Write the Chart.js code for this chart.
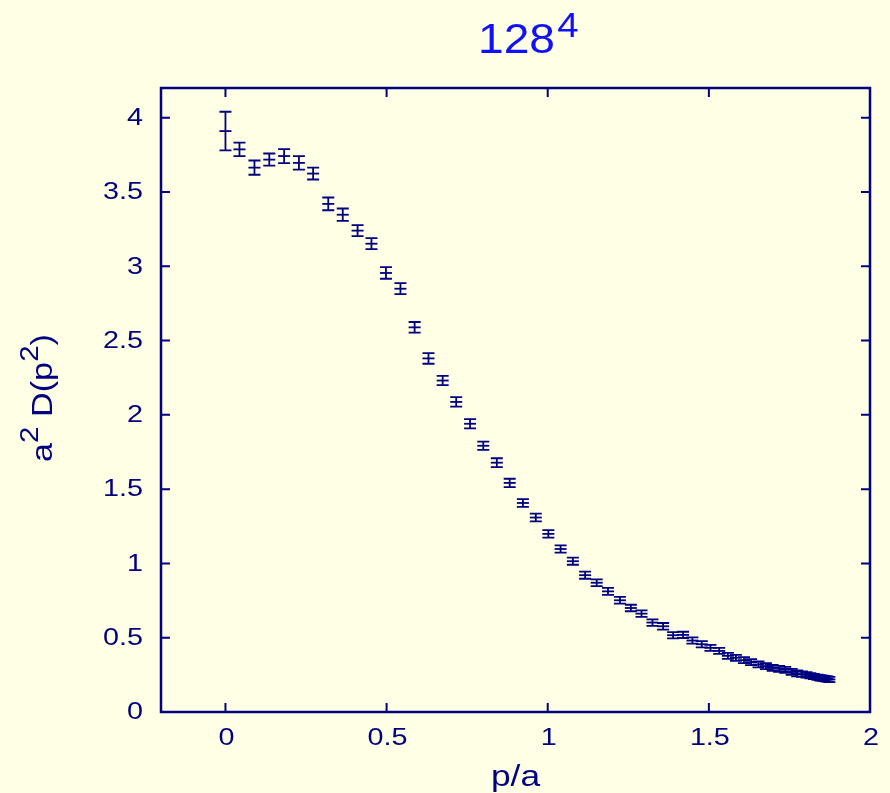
<!DOCTYPE html>
<html>
<head>
<meta charset="utf-8">
<script src="https://cdn.jsdelivr.net/npm/chart.js@4/dist/chart.umd.min.js"></script>
<style>
  html, body { margin: 0; padding: 0; background: #ffffe6; }
  canvas { display: block; }
</style>
</head>
<body>
<canvas id="prop_graph" width="890" height="793"></canvas>
<script>
// momentum p/a
const pa = [0.000, 0.0435, 0.090, 0.136, 0.182, 0.228, 0.272, 0.319, 0.364, 0.410,
            0.453, 0.498, 0.543, 0.587, 0.630, 0.674, 0.716, 0.759, 0.800, 0.842,
            0.882, 0.923, 0.963, 1.002, 1.040, 1.078, 1.116, 1.152, 1.187, 1.224,
            1.258, 1.291, 1.325, 1.358, 1.389, 1.420, 1.449, 1.478, 1.505, 1.532,
            1.559, 1.584, 1.609, 1.631, 1.654, 1.677, 1.698, 1.718, 1.737, 1.757,
            1.774, 1.789, 1.803, 1.815, 1.826, 1.837, 1.846, 1.854, 1.862, 1.868,
            1.874];
// propagator a^2 D(p^2)
const prop = [3.91, 3.787, 3.664, 3.718, 3.742, 3.696, 3.624, 3.42, 3.347, 3.24,
              3.152, 2.955, 2.849, 2.589, 2.38, 2.231, 2.087, 1.94, 1.792, 1.678,
              1.542, 1.407, 1.309, 1.199, 1.097, 1.015, 0.921, 0.870, 0.812, 0.752,
              0.700, 0.662, 0.602, 0.577, 0.517, 0.519, 0.481, 0.456, 0.432, 0.411,
              0.378, 0.365, 0.349, 0.336, 0.320, 0.309, 0.297, 0.291, 0.284, 0.270,
              0.260, 0.255, 0.250, 0.244, 0.239, 0.234, 0.230, 0.227, 0.224, 0.222,
              0.219];
// statistical errors
const propErr = [0.13, 0.045, 0.048, 0.041, 0.047, 0.045, 0.04, 0.043, 0.042, 0.037,
                 0.037, 0.039, 0.037, 0.036, 0.036, 0.031, 0.032, 0.031, 0.028, 0.03,
                 0.028, 0.026, 0.026, 0.025, 0.024, 0.024, 0.024, 0.023, 0.023, 0.023,
                 0.022, 0.022, 0.022, 0.022, 0.021, 0.021, 0.021, 0.021, 0.02, 0.02,
                 0.02, 0.02, 0.02, 0.02, 0.02, 0.02, 0.02, 0.02, 0.02, 0.02,
                 0.02, 0.018, 0.018, 0.018, 0.018, 0.018, 0.018, 0.018, 0.018, 0.018,
                 0.018];

const xTickVals = [0, 0.5, 1, 1.5, 2];
const yTickVals = [0, 0.5, 1, 1.5, 2, 2.5, 3, 3.5, 4];

const navy = '#000080';
const titleBlue = '#1010ff';
const bg = '#ffffe6';
const fontFam = '"Liberation Sans", Arial, Helvetica, sans-serif';

//the plot fonts are drawn a bit wide, so text is stretched sideways
const tickStretch = 1.25;
const labelStretch = 1.18;

//draws text runs (with superscripts) starting at 0,0 of the current transform
function drawRuns(ctx, runs){
    let cx = 0;
    runs.forEach(r => {
        ctx.font = r.size + 'px ' + fontFam;
        ctx.fillText(r.t, cx, -(r.rise || 0));
        cx += ctx.measureText(r.t).width + (r.gap || 0);
    });
}
function runsWidth(ctx, runs){
    let w = 0;
    runs.forEach(r => {
        ctx.font = r.size + 'px ' + fontFam;
        w += ctx.measureText(r.t).width + (r.gap || 0);
    });
    return w;
}

//background fill
const bgPlugin = {
    id: 'bg',
    beforeDraw(chart){
        const ctx = chart.ctx;
        ctx.save();
        ctx.fillStyle = bg;
        ctx.fillRect(0, 0, chart.width, chart.height);
        ctx.restore();
    }
};

//error bars with caps
const errorBars = {
    id: 'errorBars',
    afterDatasetsDraw(chart){
        const ctx = chart.ctx;
        const xs = chart.scales.x, ys = chart.scales.y;
        ctx.save();
        ctx.strokeStyle = navy;
        ctx.lineWidth = 1.8;
        for (let i = 0; i < pa.length; i++){
            const px = xs.getPixelForValue(pa[i]);
            const top = ys.getPixelForValue(prop[i] + propErr[i]);
            const bot = ys.getPixelForValue(prop[i] - propErr[i]);
            const cap = 6;
            ctx.beginPath();
            ctx.moveTo(px, top); ctx.lineTo(px, bot);
            ctx.moveTo(px - cap, top); ctx.lineTo(px + cap, top);
            ctx.moveTo(px - cap, bot); ctx.lineTo(px + cap, bot);
            ctx.stroke();
        }
        ctx.restore();
    }
};

//box frame with inward ticks on all four sides, tick labels and titles
const frame = {
    id: 'frame',
    afterDraw(chart){
        const ctx = chart.ctx;
        const a = chart.chartArea;
        const xs = chart.scales.x, ys = chart.scales.y;
        const tl = 9;
        ctx.save();
        ctx.strokeStyle = navy;
        ctx.lineWidth = 2;
        ctx.beginPath();
        xTickVals.forEach(v => {
            const px = xs.getPixelForValue(v);
            ctx.moveTo(px, a.bottom); ctx.lineTo(px, a.bottom - tl);
            ctx.moveTo(px, a.top); ctx.lineTo(px, a.top + tl);
        });
        yTickVals.forEach(v => {
            const py = ys.getPixelForValue(v);
            ctx.moveTo(a.left, py); ctx.lineTo(a.left + tl, py);
            ctx.moveTo(a.right, py); ctx.lineTo(a.right - tl, py);
        });
        ctx.stroke();
        ctx.lineWidth = 2.5;
        ctx.strokeRect(a.left, a.top, a.right - a.left, a.bottom - a.top);

        //tick labels
        ctx.fillStyle = navy;
        ctx.font = '23px ' + fontFam;
        ctx.textBaseline = 'middle';
        ctx.textAlign = 'right';
        yTickVals.forEach(v => {
            ctx.save();
            ctx.translate(a.left - 18, ys.getPixelForValue(v) + 1);
            ctx.scale(tickStretch, 1);
            ctx.fillText(String(v), 0, 0);
            ctx.restore();
        });
        ctx.textAlign = 'center';
        ctx.textBaseline = 'alphabetic';
        xTickVals.forEach(v => {
            ctx.save();
            ctx.translate(xs.getPixelForValue(v) + 1, 745);
            ctx.scale(tickStretch, 1);
            ctx.fillText(String(v), 0, 0);
            ctx.restore();
        });

        const mid = (a.left + a.right) / 2;
        ctx.textAlign = 'left';

        //title 128^4
        ctx.save();
        ctx.fillStyle = titleBlue;
        ctx.font = '42px ' + fontFam;
        const baseW = ctx.measureText('128').width * 1.1;
        ctx.translate(mid + 1 - baseW / 2, 53);
        ctx.scale(1.1, 1);
        drawRuns(ctx, [{t: '128', size: 42, gap: 2}, {t: '4', size: 35, rise: 16}]);
        ctx.restore();

        //x axis title
        ctx.save();
        ctx.font = '30px ' + fontFam;
        ctx.textAlign = 'center';
        ctx.translate(mid, 786);
        ctx.scale(labelStretch, 1);
        ctx.fillText('p/a', 0, 0);
        ctx.restore();

        //y axis title, rotated
        const yRuns = [{t: 'a', size: 29}, {t: '2', size: 25, rise: 14},
                       {t: ' D(p', size: 29}, {t: '2', size: 25, rise: 14},
                       {t: ')', size: 29}];
        const w = runsWidth(ctx, yRuns) * labelStretch;
        ctx.save();
        ctx.translate(52, 398);
        ctx.rotate(-Math.PI / 2);
        ctx.translate(-w / 2, 0);
        ctx.scale(labelStretch, 1);
        drawRuns(ctx, yRuns);
        ctx.restore();

        ctx.restore();
    }
};

const ctx = document.querySelector('#prop_graph').getContext('2d');

const points = pa.map((v, i) => ({x: v, y: prop[i]}));

new Chart(ctx, {
    type: 'scatter',
    data: {
        datasets: [{
            data: points,
            pointStyle: 'line',
            pointRadius: 6,
            pointHoverRadius: 6,
            borderColor: navy,
            backgroundColor: navy,
            borderWidth: 1.8,
            clip: false
        }]
    },
    options: {
        responsive: false,
        animation: false,
        events: [],
        layout: { padding: { top: 88, right: 20, left: 0, bottom: 0 } },
        plugins: {
            legend: { display: false },
            tooltip: { enabled: false },
            title: { display: false }
        },
        scales: {
            x: {
                type: 'linear',
                min: -0.2,
                max: 2,
                afterBuildTicks: s => { s.ticks = xTickVals.map(v => ({value: v})); },
                afterFit: s => { s.height = 81; },
                grid: { display: false, drawTicks: false },
                border: { display: false },
                ticks: { display: false }
            },
            y: {
                type: 'linear',
                min: 0,
                max: 4.2,
                afterBuildTicks: s => { s.ticks = yTickVals.map(v => ({value: v})); },
                afterFit: s => { s.width = 161; },
                grid: { display: false, drawTicks: false },
                border: { display: false },
                ticks: { display: false }
            }
        }
    },
    plugins: [bgPlugin, errorBars, frame]
});
</script>
</body>
</html>
